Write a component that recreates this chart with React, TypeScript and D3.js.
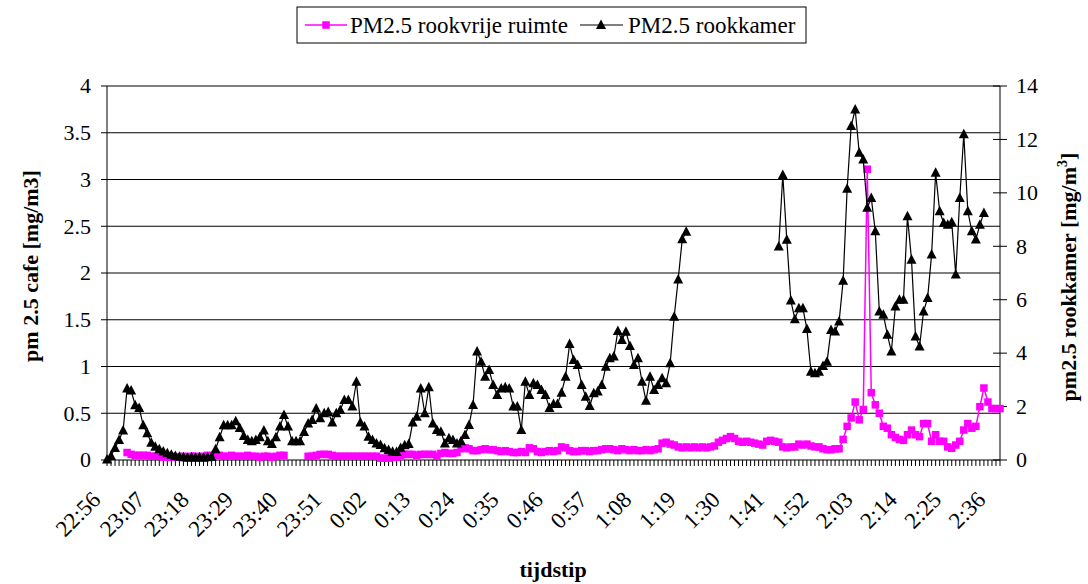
import React from 'react';
import * as d3 from 'd3';

const WIDTH = 1088;
const HEIGHT = 584;
const PLOT = { left: 107, right: 1000, top: 86, bottom: 460 };
const FONT = '"Liberation Serif", "Times New Roman", serif';

// one category per minute, 22:56 .. 2:38
const START = new Date(2000, 0, 1, 22, 56);
const N_CATEGORIES = 223;
const categories = d3.range(N_CATEGORIES).map(i => d3.timeFormat('%-H:%M')(d3.timeMinute.offset(START, i)));
const xTickLabels = ['22:56', '23:07', '23:18', '23:29', '23:40', '23:51', '0:02', '0:13', '0:24', '0:35', '0:46',
    '0:57', '1:08', '1:19', '1:30', '1:41', '1:52', '2:03', '2:14', '2:25', '2:36'];

const leftTicks = [0, 0.5, 1, 1.5, 2, 2.5, 3, 3.5, 4];
const rightTicks = [0, 2, 4, 6, 8, 10, 12, 14];

// PM2.5 rookvrije ruimte (left axis, mg/m3)
const rookvrij: (number | null)[] = [
    null, null, null, null, null, 0.08, 0.06, 0.05, 0.05, 0.05,
    0.05, 0.04, 0.04, 0.04, 0.03, 0.03, 0.04, 0.03, 0.03, 0.04,
    0.03, 0.04, 0.04, 0.03, 0.04, 0.05, 0.04, 0.06, 0.05, 0.04,
    0.04, 0.05, 0.04, 0.04, 0.04, 0.05, 0.04, 0.04, 0.03, 0.04,
    0.04, 0.03, 0.04, 0.05, 0.05, null, null, null, null, null,
    0.04, 0.04, 0.05, 0.06, 0.06, 0.06, 0.05, 0.04, 0.04, 0.04,
    0.04, 0.04, 0.04, 0.04, 0.04, 0.04, 0.04, 0.04, 0.02, 0.02,
    0.02, 0.03, 0.03, 0.05, 0.06, 0.06, 0.06, 0.05, 0.06, 0.06,
    0.06, 0.06, 0.04, 0.07, 0.08, 0.07, 0.07, 0.08, 0.12, 0.13,
    0.12, 0.1, 0.1, 0.11, 0.12, 0.11, 0.11, 0.1, 0.09, 0.1,
    0.09, 0.08, 0.08, 0.09, 0.08, 0.13, 0.12, 0.09, 0.08, 0.09,
    0.1, 0.09, 0.1, 0.14, 0.13, 0.1, 0.09, 0.09, 0.1, 0.1,
    0.09, 0.1, 0.1, 0.11, 0.12, 0.12, 0.11, 0.1, 0.12, 0.11,
    0.1, 0.11, 0.1, 0.1, 0.11, 0.1, 0.11, 0.12, 0.18, 0.19,
    0.17, 0.16, 0.14, 0.13, 0.14, 0.13, 0.14, 0.13, 0.14, 0.13,
    0.14, 0.15, 0.19, 0.21, 0.23, 0.25, 0.23, 0.2, 0.19, 0.2,
    0.19, 0.18, 0.17, 0.16, 0.2, 0.21, 0.2, 0.19, 0.14, 0.13,
    0.14, 0.14, 0.17, 0.16, 0.17, 0.15, 0.14, 0.14, 0.12, 0.11,
    0.11, 0.12, 0.12, 0.22, 0.36, 0.45, 0.62, 0.43, 0.54, 3.11,
    0.72, 0.59, 0.5, 0.36, 0.34, 0.27, 0.24, 0.22, 0.21, 0.27,
    0.32, 0.27, 0.25, 0.39, 0.39, 0.2, 0.27, 0.2, 0.2, 0.14,
    0.125, 0.16, 0.2, 0.32, 0.39, 0.34, 0.36, 0.57, 0.77, 0.62,
    0.55, 0.55, 0.55,
];

// PM2.5 rookkamer (right axis, mg/m3)
const rookkamer: (number | null)[] = [
    0.02, 0.15, 0.45, 0.75, 1.1, 2.68, 2.6, 2.05, 1.95, 1.3,
    1.0, 0.65, 0.5, 0.4, 0.32, 0.25, 0.2, 0.15, 0.12, 0.1,
    0.08, 0.1, 0.08, 0.1, 0.08, 0.1, 0.12, 0.4, 0.85, 1.3,
    1.3, 1.3, 1.45, 1.2, 0.9, 0.75, 0.7, 0.75, 0.85, 1.1,
    0.7, 0.6, 0.85, 1.25, 1.68, 1.25, 0.7, 0.7, 0.7, 1.05,
    1.37, 1.5, 1.93, 1.56, 1.75, 1.8, 1.4, 1.75, 1.87, 2.25,
    2.25, 2.0, 2.93, 1.4, 1.25, 0.87, 0.75, 0.62, 0.56, 0.44,
    0.37, 0.31, 0.3, 0.45, 0.55, 0.6, 1.4, 1.62, 2.68, 1.75,
    2.72, 1.37, 1.12, 1.06, 0.62, 0.81, 0.75, 0.62, 0.7, 0.94,
    1.31, 2.06, 4.06, 3.68, 3.12, 3.37, 2.81, 2.43, 2.68, 2.72,
    2.68, 2.0, 2.0, 1.12, 2.93, 2.43, 2.87, 2.81, 2.62, 2.43,
    1.95, 2.1, 2.1, 2.52, 3.12, 4.34, 3.74, 3.56, 2.81, 2.37,
    2.02, 2.5, 2.56, 2.81, 3.49, 3.81, 3.87, 4.83, 4.49, 4.8,
    4.27, 3.56, 3.81, 2.93, 2.22, 3.12, 2.62, 2.81, 3.06, 2.87,
    3.62, 5.36, 6.76, 8.26, 8.54, null, null, null, null, null,
    null, null, null, null, null, null, null, null, null, null,
    null, null, null, null, null, null, null, 7.99, 10.67, 8.24,
    5.97, 5.27, 5.68, 5.68, 4.9, 3.3, 3.25, 3.3, 3.52, 3.68,
    4.87, 4.81, 5.18, 6.71, 10.15, 12.5, 13.12, 11.5, 11.25, 9.44,
    9.81, 8.56, 5.56, 5.44, 4.69, 4.06, 5.75, 6.0, 6.0, 9.12,
    7.5, 4.62, 4.25, 5.56, 6.06, 7.69, 10.75, 9.31, 8.87, 8.81,
    8.9, 6.94, 9.81, 12.19, 9.31, 8.56, 8.25, 8.81, 9.25, null,
    null, null, null,
];

const PINK = '#ff00ff';

const Triangle = ({ x, y, s = 10 }: { x: number; y: number; s?: number }) => (
    <path d={`M${x},${y - s * 0.55}L${x + s / 2},${y + s * 0.4}L${x - s / 2},${y + s * 0.4}Z`} fill="#000" />
);

const App = () => {
    const xScale = d3.scalePoint<string>().domain(categories).range([PLOT.left, PLOT.right]);
    const yLeft = d3.scaleLinear().domain([0, 4]).range([PLOT.bottom, PLOT.top]);
    const yRight = d3.scaleLinear().domain([0, 14]).range([PLOT.bottom, PLOT.top]);

    const pinkLine = d3.line<number | null>()
        .defined(d => d != null)
        .x((_, i) => xScale(categories[i])!)
        .y(d => yLeft(d as number));
    const blackLine = d3.line<number | null>()
        .defined(d => d != null)
        .x((_, i) => xScale(categories[i])!)
        .y(d => yRight(d as number));

    return (
        <svg width={WIDTH} height={HEIGHT} style={{ position: 'absolute', left: 0, top: 0, background: '#fff' }}
            fontFamily={FONT}>
            {/* gridlines */}
            {leftTicks.map(t => (
                <line key={t} x1={PLOT.left} x2={PLOT.right} y1={yLeft(t)} y2={yLeft(t)} stroke="#000" strokeWidth={1} />
            ))}
            {/* left axis */}
            <line x1={PLOT.left} x2={PLOT.left} y1={PLOT.top} y2={PLOT.bottom} stroke="#000" />
            {leftTicks.map(t => (
                <g key={t}>
                    <line x1={PLOT.left - 6} x2={PLOT.left} y1={yLeft(t)} y2={yLeft(t)} stroke="#000" />
                    <text x={PLOT.left - 16} y={yLeft(t)} dy="0.33em" textAnchor="end" fontSize={22}>{t}</text>
                </g>
            ))}
            {/* right axis */}
            <line x1={PLOT.right} x2={PLOT.right} y1={PLOT.top} y2={PLOT.bottom} stroke="#000" />
            {rightTicks.map(t => (
                <g key={t}>
                    <line x1={PLOT.right - 7} x2={PLOT.right + 7} y1={yRight(t)} y2={yRight(t)} stroke="#000" />
                    <text x={PLOT.right + 16} y={yRight(t)} dy="0.33em" textAnchor="start" fontSize={22}>{t}</text>
                </g>
            ))}
            {/* x axis ticks */}
            {categories.map(c => (
                <line key={c} x1={xScale(c)} x2={xScale(c)} y1={PLOT.bottom} y2={PLOT.bottom + 6} stroke="#000" />
            ))}
            {xTickLabels.map(l => (
                <text key={l} fontSize={23} textAnchor="end"
                    transform={`translate(${xScale(l)! - 5},${PLOT.bottom + 41}) rotate(-45)`}>{l}</text>
            ))}

            {/* series */}
            <path d={pinkLine(rookvrij) || ''} fill="none" stroke={PINK} strokeWidth={1.5} />
            {rookvrij.map((d, i) => d == null ? null : (
                <rect key={i} x={xScale(categories[i])! - 3.75} y={yLeft(d) - 3.75} width={7.5} height={7.5} fill={PINK} />
            ))}
            <path d={blackLine(rookkamer) || ''} fill="none" stroke="#000" strokeWidth={1.2} />
            {rookkamer.map((d, i) => d == null ? null : (
                <Triangle key={i} x={xScale(categories[i])!} y={yRight(d)} />
            ))}

            {/* axis titles */}
            <text x={553} y={577} textAnchor="middle" fontSize={22} fontWeight="bold">tijdstip</text>
            <text transform="translate(38,266) rotate(-90)" textAnchor="middle" fontSize={22} fontWeight="bold">
                pm 2.5 cafe [mg/m3]
            </text>
            <text transform="translate(1076,277) rotate(-90)" textAnchor="middle" fontSize={22} fontWeight="bold">
                pm2.5 rookkamer [mg/m<tspan dy={-9} fontSize={14}>3</tspan><tspan dy={9}>]</tspan>
            </text>

            {/* legend */}
            <rect x={297} y={7} width={509} height={36} fill="#fff" stroke="#000" />
            <line x1={305} x2={347} y1={25} y2={25} stroke={PINK} strokeWidth={1.5} />
            <rect x={322.25} y={21.25} width={7.5} height={7.5} fill={PINK} />
            <text x={350} y={33} fontSize={23}>PM2.5 rookvrije ruimte</text>
            <line x1={580} x2={623} y1={25} y2={25} stroke="#000" strokeWidth={1.2} />
            <Triangle x={601} y={25} />
            <text x={628} y={33} fontSize={23}>PM2.5 rookkamer</text>
        </svg>
    );
};

export default App;
